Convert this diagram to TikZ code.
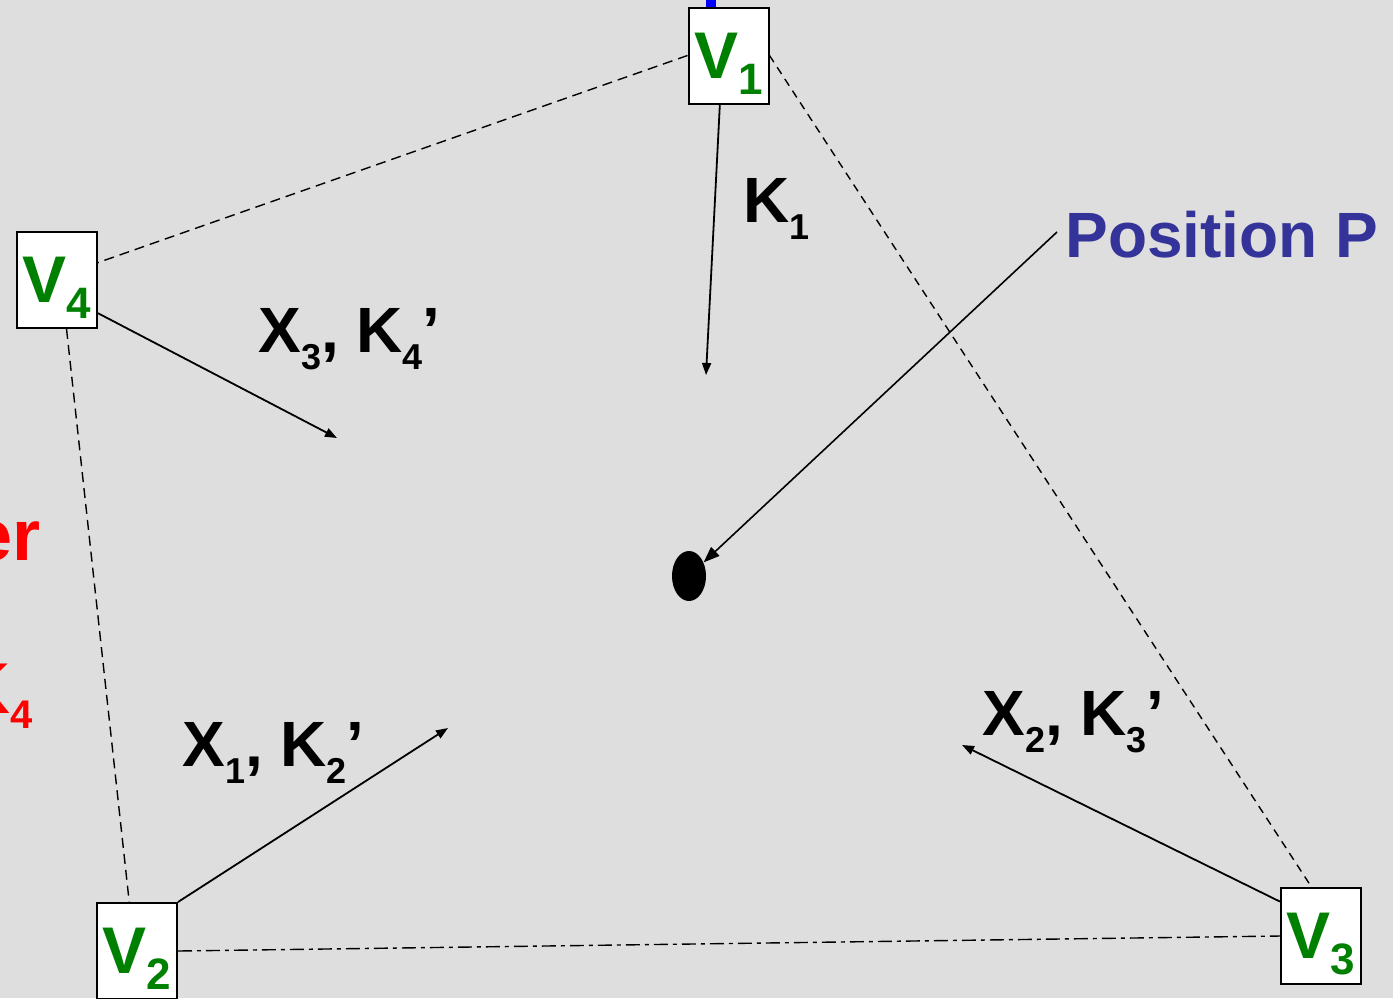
\documentclass[tikz,border=0pt]{standalone}
\usepackage{fontspec}
\setmainfont{Liberation Sans}
\usetikzlibrary{arrows.meta, positioning, shapes.geometric, calc}

\definecolor{vgreen}{HTML}{008000}
\definecolor{pblue}{HTML}{333399}
\definecolor{bggray}{HTML}{DEDEDE}

\newcommand{\vsub}[1]{\raisebox{-8pt}{\fontsize{22}{22}\selectfont #1}}
\newcommand{\ksub}[1]{\raisebox{-8.5pt}{\fontsize{18}{18}\selectfont #1}}

\begin{document}
\begin{tikzpicture}[x=0.5pt, y=-0.5pt,
    vertex/.style={draw, line width=1pt, fill=white, minimum width=40pt, minimum height=48pt,
      inner sep=0pt, text depth=0pt, text=vgreen, font=\fontsize{33}{33}\selectfont\bfseries},
    lbl/.style={anchor=base west, inner sep=0pt, font=\fontsize{32}{32}\selectfont\bfseries},
    edge/.style={line width=0.7pt, dash pattern=on 5pt off 3pt},
    pull/.style={line width=0.9pt, -{Triangle[length=6pt,width=4.5pt]}}]

  \fill[bggray] (0,0) rectangle (1393,998);
  \useasboundingbox (0,0) rectangle (1393,998);
  \clip (0,0) rectangle (1393,998);

  % cut-off parts at the edges
  \fill[blue] (706,0) rectangle (716,7);
  \node[anchor=base east, inner sep=0pt, text=red, font=\fontsize{36}{36}\selectfont\bfseries] (ord) at (41,560) {er};
  \node[anchor=base east, inner sep=0pt, text=red, font=\fontsize{36}{36}\selectfont\bfseries] (kred) at (33,713)
    {K\raisebox{-7.5pt}{\fontsize{20}{20}\selectfont 4}};

  % the four boxes
  \foreach \n/\x/\y in {1/728.5/55.5, 2/137/951, 3/1321/936, 4/57/280} {
    \node[vertex] (v\n) at (\x,\y) {V\vsub{\n}};
  }

  % outline
  \draw[edge] (v1.west) -- (v4.23);
  \draw[edge, dash pattern=on 4pt off 3pt] (v1.east) -- (v3.101);
  \draw[edge] (v4.-79) -- (v2.99);
  \draw[line width=0.7pt, dash pattern=on 7pt off 2.5pt on 2pt off 2.5pt] (v2.east) -- (v3.west);

  % pulls
  \coordinate (e1) at (706,375);
  \coordinate (e4) at (337,438);
  \coordinate (e2) at (448,728);
  \coordinate (e3) at (962,745);
  \draw[pull] (v1.-100) -- (e1);
  \draw[pull] (v4.-39.5) -- (e4);
  \draw[pull] (v2.north east) -- (e2);
  \draw[pull] (v3.140.5) -- (e3);

  \node[lbl] (k1) at (743,222) {K\ksub{1}};
  \node[lbl] (x3) at (258,352) {X\ksub{3}, K\ksub{4}’};
  \node[lbl] (x1) at (182,766) {X\ksub{1}, K\ksub{2}’};
  \node[lbl] (x2) at (982,735) {X\ksub{2}, K\ksub{3}’};

  % the point
  \node[ellipse, fill=black, minimum width=17pt, minimum height=25pt, inner sep=0pt] (pt) at (689,576) {};
  \node[lbl, text=pblue] (posp) at (1065,257) {Position P};
  \coordinate (ps) at (1057,232);
  \draw[pull, line width=0.8pt, -{Triangle[length=8pt,width=6pt]}] (ps) -- (pt);
\end{tikzpicture}
\end{document}
